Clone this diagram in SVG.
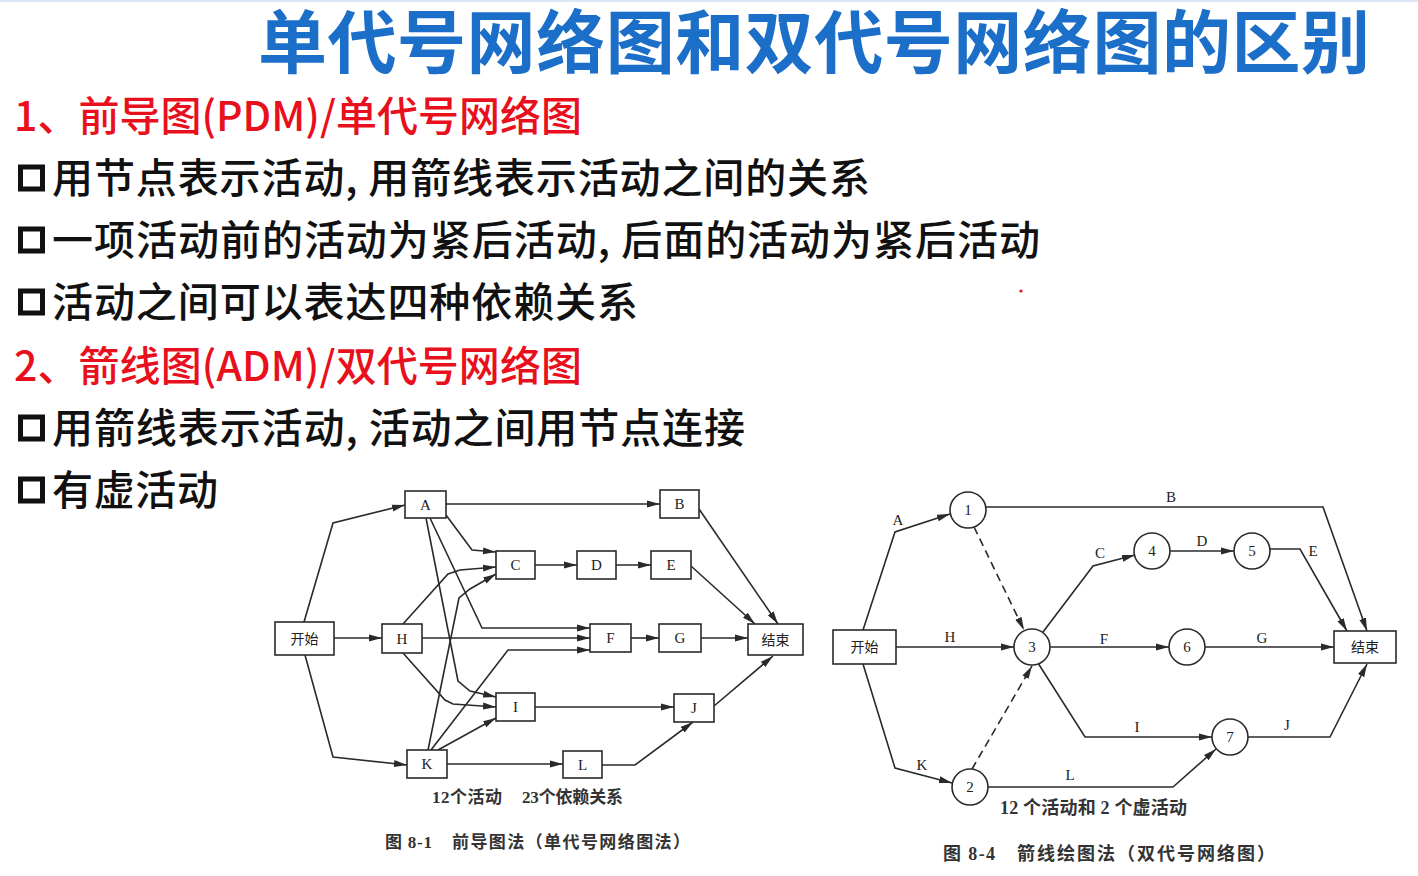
<svg xmlns="http://www.w3.org/2000/svg" width="1418" height="876" viewBox="0 0 1418 876">
  <style>
    .title { font-family: "Noto Sans CJK SC", "Liberation Sans", sans-serif; font-weight: 700; fill: #1b6fc8; }
    .head { font-family: "Noto Sans CJK SC", "Liberation Sans", sans-serif; font-weight: 500; fill: #e8101c; }
    .body { font-family: "Noto Sans CJK SC", "Liberation Sans", sans-serif; font-weight: 500; fill: #111; }
    .bullet { fill: none; stroke: #111; stroke-width: 5; }
    .box { fill: #fff; stroke: #2a2a2a; stroke-width: 1.6; }
    .node { fill: #fff; stroke: #2a2a2a; stroke-width: 1.6; }
    .lbl { font-family: "Liberation Serif", "Noto Sans CJK SC", serif; font-size: 15px; fill: #222; text-anchor: middle; }
    .cjk { font-family: "Noto Sans CJK SC", sans-serif; font-size: 14px; fill: #222; text-anchor: middle; }
    .cap { font-family: "Liberation Serif", "Noto Sans CJK SC", serif; font-size: 17px; font-weight: 700; fill: #333; }
    .cap2 { font-family: "Liberation Serif", "Noto Sans CJK SC", serif; font-size: 18px; font-weight: 700; fill: #333; }
    .edge { fill: none; stroke: #2a2a2a; stroke-width: 1.6; marker-end: url(#arr); }
    .dash { fill: none; stroke: #2a2a2a; stroke-width: 1.6; stroke-dasharray: 8 5; marker-end: url(#arr); }
  </style>
  <defs>
    <marker id="arr" markerUnits="userSpaceOnUse" markerWidth="14" markerHeight="8" refX="13" refY="4" orient="auto">
      <path d="M0,0.5 L13,4 L0,7.5 z" fill="#2a2a2a"/>
    </marker>
  </defs>

  <rect width="1418" height="876" fill="#fff"/>
  <rect x="0" y="0" width="1418" height="2" fill="#dbe7f4"/>

  <!-- Heading and bullet text -->
  <text class="title" x="258" y="68" font-size="69" textLength="1112">单代号网络图和双代号网络图的区别</text>

  <text class="head" x="14" y="131" font-size="41" textLength="568">1、前导图(PDM)/单代号网络图</text>
  <rect class="bullet" x="20.5" y="167" width="22" height="22"/>
  <text class="body" x="52" y="193" font-size="41" textLength="818">用节点表示活动, 用箭线表示活动之间的关系</text>
  <rect class="bullet" x="20.5" y="229" width="22" height="22"/>
  <text class="body" x="52" y="255" font-size="41" textLength="988">一项活动前的活动为紧后活动, 后面的活动为紧后活动</text>
  <rect class="bullet" x="20.5" y="291" width="22" height="22"/>
  <text class="body" x="52" y="317" font-size="41" textLength="586">活动之间可以表达四种依赖关系</text>
  <circle cx="1021" cy="291" r="1.6" fill="#e8101c"/>

  <text class="head" x="14" y="381" font-size="41" textLength="568">2、箭线图(ADM)/双代号网络图</text>
  <rect class="bullet" x="20.5" y="417" width="22" height="22"/>
  <text class="body" x="52" y="443" font-size="41" textLength="693">用箭线表示活动, 活动之间用节点连接</text>
  <rect class="bullet" x="20.5" y="479" width="22" height="22"/>
  <text class="body" x="52" y="505" font-size="41" textLength="166">有虚活动</text>

  <!-- Precedence diagram: connectors -->
  <g id="pdm-edges">
    <path class="edge" d="M304,622 L333,523 L405,505"/>
    <path class="edge" d="M334,638 L382,638"/>
    <path class="edge" d="M305,655 L333,757 L407,765"/>
    <path class="edge" d="M446,504 L660,504"/>
    <path class="edge" d="M446,515 L472,550 L496,552"/>
    <path class="edge" d="M430,518 L482,628 L590,628"/>
    <path class="edge" d="M426,518 L458,681 L470,691 L496,697"/>
    <path class="edge" d="M403,624 L448,574 L460,570 L496,567"/>
    <path class="edge" d="M422,638 L590,638"/>
    <path class="edge" d="M403,653 L445,700 L453,704 L496,707"/>
    <path class="edge" d="M428,750 L459,598 L470,589 L496,574"/>
    <path class="edge" d="M431,750 L508,650 L590,650"/>
    <path class="edge" d="M438,750 L496,718"/>
    <path class="edge" d="M447,764 L563,764"/>
    <path class="edge" d="M535,565 L577,565"/>
    <path class="edge" d="M616,565 L651,565"/>
    <path class="edge" d="M631,638 L659,638"/>
    <path class="edge" d="M701,638 L748,638"/>
    <path class="edge" d="M699,509 L778,624"/>
    <path class="edge" d="M691,566 L755,624"/>
    <path class="edge" d="M535,707 L674,707"/>
    <path class="edge" d="M602,765 L635,765 L693,722"/>
    <path class="edge" d="M714,706 L773,656"/>
  </g>

  <!-- Precedence diagram: activity boxes -->
  <g id="pdm-start"><rect class="box" x="275" y="622" width="59" height="33"/><text class="cjk" x="304.5" y="643.5">开始</text></g>
  <g id="pdm-A"><rect class="box" x="405" y="491" width="41" height="27"/><text class="lbl" x="425.5" y="509.5">A</text></g>
  <g id="pdm-B"><rect class="box" x="660" y="490" width="39" height="28"/><text class="lbl" x="679.5" y="509">B</text></g>
  <g id="pdm-C"><rect class="box" x="496" y="551" width="39" height="28"/><text class="lbl" x="515.5" y="570">C</text></g>
  <g id="pdm-D"><rect class="box" x="577" y="551" width="39" height="28"/><text class="lbl" x="596.5" y="570">D</text></g>
  <g id="pdm-E"><rect class="box" x="651" y="551" width="40" height="28"/><text class="lbl" x="671" y="570">E</text></g>
  <g id="pdm-H"><rect class="box" x="382" y="624" width="40" height="29"/><text class="lbl" x="402" y="643.5">H</text></g>
  <g id="pdm-F"><rect class="box" x="590" y="624" width="41" height="28"/><text class="lbl" x="610.5" y="643">F</text></g>
  <g id="pdm-G"><rect class="box" x="659" y="624" width="42" height="28"/><text class="lbl" x="680" y="643">G</text></g>
  <g id="pdm-end"><rect class="box" x="748" y="624" width="55" height="31"/><text class="cjk" x="775.5" y="644.5">结束</text></g>
  <g id="pdm-I"><rect class="box" x="496" y="693" width="39" height="28"/><text class="lbl" x="515.5" y="712">I</text></g>
  <g id="pdm-J"><rect class="box" x="674" y="694" width="40" height="28"/><text class="lbl" x="694" y="713">J</text></g>
  <g id="pdm-K"><rect class="box" x="407" y="750" width="40" height="28"/><text class="lbl" x="427" y="769">K</text></g>
  <g id="pdm-L"><rect class="box" x="563" y="751" width="39" height="27"/><text class="lbl" x="582.5" y="770">L</text></g>

  <text class="cap" y="803"><tspan x="432" textLength="70">12个活动</tspan><tspan x="522" textLength="101">23个依赖关系</tspan></text>
  <text class="cap" y="848"><tspan x="385" textLength="47">图 8-1</tspan><tspan x="452" textLength="238">前导图法（单代号网络图法）</tspan></text>

  <!-- Arrow diagram: connectors -->
  <g id="adm-edges">
    <path class="edge" d="M863,630 L895,532 L950,514"/>
    <path class="edge" d="M896,647 L1014,647"/>
    <path class="edge" d="M863,664 L895,768 L952,783"/>
    <path class="dash" d="M974,527 L1024,630"/>
    <path class="dash" d="M972,769 L1032,666"/>
    <path class="edge" d="M986,507 L1323,507 L1367,631"/>
    <path class="edge" d="M1043,632 L1093,566 L1135,555"/>
    <path class="edge" d="M1170,551 L1234,551"/>
    <path class="edge" d="M1270,549 L1300,549 L1347,631"/>
    <path class="edge" d="M1050,647 L1169,647"/>
    <path class="edge" d="M1205,647 L1334,647"/>
    <path class="edge" d="M1038,663 L1085,737 L1212,737"/>
    <path class="edge" d="M988,787 L1173,787 L1216,749"/>
    <path class="edge" d="M1248,737 L1330,737 L1367,664"/>
  </g>

  <!-- Arrow diagram: activity labels -->
  <g id="adm-labels">
    <text class="lbl" x="898" y="525">A</text>
    <text class="lbl" x="1171" y="502">B</text>
    <text class="lbl" x="1100" y="558">C</text>
    <text class="lbl" x="1202" y="546">D</text>
    <text class="lbl" x="1313" y="556">E</text>
    <text class="lbl" x="950" y="642">H</text>
    <text class="lbl" x="1104" y="644">F</text>
    <text class="lbl" x="1262" y="643">G</text>
    <text class="lbl" x="1137" y="732">I</text>
    <text class="lbl" x="1287" y="730">J</text>
    <text class="lbl" x="922" y="770">K</text>
    <text class="lbl" x="1070" y="780">L</text>
  </g>

  <!-- Arrow diagram: event nodes -->
  <g id="adm-start"><rect class="box" x="833" y="630" width="63" height="34"/><text class="cjk" x="864.5" y="652">开始</text></g>
  <g id="adm-end"><rect class="box" x="1334" y="631" width="62" height="32"/><text class="cjk" x="1365" y="652">结束</text></g>
  <g id="adm-1"><circle class="node" cx="968" cy="510" r="18"/><text class="lbl" x="968" y="515">1</text></g>
  <g id="adm-2"><circle class="node" cx="970" cy="787" r="18"/><text class="lbl" x="970" y="792">2</text></g>
  <g id="adm-3"><circle class="node" cx="1032" cy="647" r="18"/><text class="lbl" x="1032" y="652">3</text></g>
  <g id="adm-4"><circle class="node" cx="1152" cy="551" r="18"/><text class="lbl" x="1152" y="556">4</text></g>
  <g id="adm-5"><circle class="node" cx="1252" cy="551" r="18"/><text class="lbl" x="1252" y="556">5</text></g>
  <g id="adm-6"><circle class="node" cx="1187" cy="647" r="18"/><text class="lbl" x="1187" y="652">6</text></g>
  <g id="adm-7"><circle class="node" cx="1230" cy="737" r="18"/><text class="lbl" x="1230" y="742">7</text></g>

  <text class="cap2" x="1000" y="814" textLength="187">12 个活动和 2 个虚活动</text>
  <text class="cap2" y="860"><tspan x="943" textLength="52">图 8-4</tspan><tspan x="1017" textLength="258">箭线绘图法（双代号网络图）</tspan></text>
</svg>
